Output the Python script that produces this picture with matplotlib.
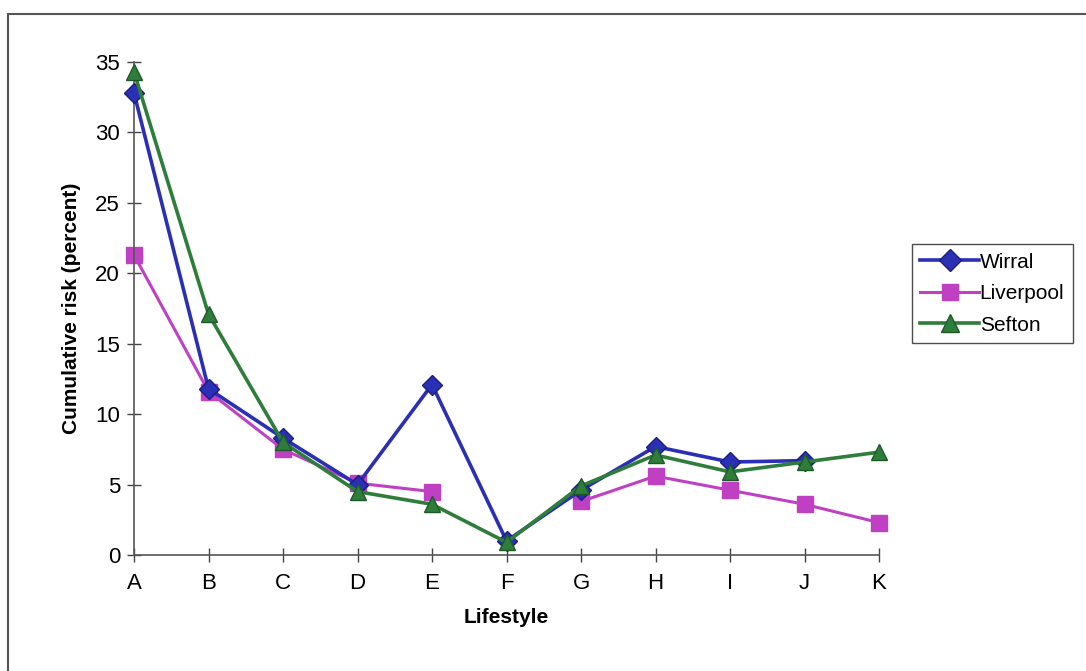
import numpy as np
import matplotlib
matplotlib.use("Agg")
import matplotlib.pyplot as plt
from matplotlib.patches import Rectangle

# ====== Datos ======
estilos = ["A", "B", "C", "D", "E", "F", "G", "H", "I", "J", "K"]
wirral = [32.8, 11.8, 8.3, 5.0, 12.1, 1.0, 4.6, 7.7, 6.6, 6.7, np.nan]
liverpool = [21.3, 11.6, 7.5, 5.1, 4.5, np.nan, 3.8, 5.6, 4.6, 3.6, 2.3]
sefton = [34.3, 17.1, 8.0, 4.5, 3.6, 0.9, 4.9, 7.1, 5.9, 6.6, 7.3]

plt.rcParams['font.family'] = ['Liberation Sans', 'DejaVu Sans']

fig = plt.figure(figsize=(10.86, 6.71), dpi=100)
ax = fig.add_axes([0.1234, 0.1729, 0.686, 0.7347])

x = np.arange(len(estilos))
ax.plot(x, wirral, color="#2a2fb5", lw=2.6, marker="D", ms=10,
        mfc="#2a2fb5", mec="#1a1e80", label="Wirral", zorder=3, clip_on=False)
ax.plot(x, liverpool, color="#c040c4", lw=2.2, marker="s", ms=11,
        mfc="#c040c4", mec="#c040c4", label="Liverpool", zorder=2, clip_on=False)
ax.plot(x, sefton, color="#2f7d3b", lw=2.6, marker="^", ms=12,
        mfc="#2f7d3b", mec="#1d5a28", label="Sefton", zorder=4, clip_on=False)

ax.set_xlim(0, 10)
ax.set_ylim(0, 35)
ax.set_xticks(x)
ax.set_xticklabels(estilos)
ax.set_yticks(range(0, 36, 5))
ax.tick_params(axis="both", direction="inout", length=10, width=1,
               color="#444444", labelsize=16, pad=5)
ax.tick_params(axis="x", length=10, pad=8)

for lado in ["top", "right"]:
    ax.spines[lado].set_visible(False)
for lado in ["left", "bottom"]:
    ax.spines[lado].set_color("#555555")
    ax.spines[lado].set_linewidth(1.2)

ax.set_xlabel("Lifestyle", fontsize=15, fontweight="bold", labelpad=10)
ax.set_ylabel("Cumulative risk (percent)", fontsize=15, fontweight="bold", labelpad=10)

leg = fig.legend(loc="upper left", bbox_to_anchor=(0.8398, 0.636),
                 bbox_transform=fig.transFigure, fontsize=15, frameon=True,
                 fancybox=False, edgecolor="#222222", handlelength=2.8,
                 handletextpad=0.05, borderpad=0.4, labelspacing=0.6,
                 borderaxespad=0, markerscale=1.1)
leg.get_frame().set_linewidth(1.0)

# marco del gráfico escaneado
marco = Rectangle((0.0074, -0.1), 1.2, 1.079, transform=fig.transFigure,
                  fill=False, edgecolor="#555555", lw=1.5, clip_on=False)
fig.patches.append(marco)

fig.savefig("out.png", dpi=100)
